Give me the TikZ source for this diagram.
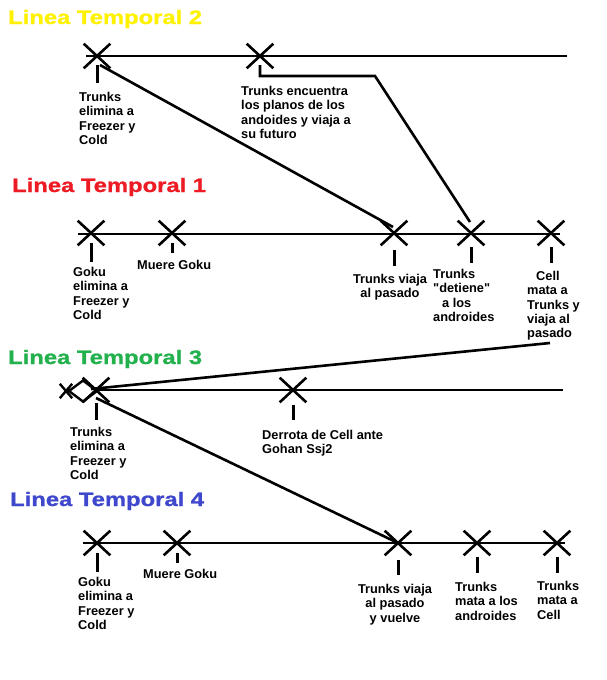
\documentclass[tikz,border=0pt]{standalone}
\usepackage{fontspec}
\setmainfont[Ligatures=TeXOff]{Liberation Sans}
\newfontfamily\titlefont[FakeStretch=1.22,FakeBold=1]{Liberation Sans}
\usetikzlibrary{shapes.misc,shapes.geometric,calc}
\definecolor{tyellow}{HTML}{FFF200}
\definecolor{tred}{HTML}{ED1C24}
\definecolor{tgreen}{HTML}{22B14C}
\definecolor{tblue}{HTML}{3F48CC}
\begin{document}
\begin{tikzpicture}[x=1pt,y=-1pt,
  tl/.style={line width=2.6pt},
  ev/.style={cross out,draw,line width=2.6pt,minimum width=24pt,minimum height=22pt,inner sep=0pt},
  tk/.style={line width=3pt},
  lbl/.style={inner sep=0pt,font=\bfseries\fontsize{12.8}{14.3}\selectfont,align=left,anchor=north west},
  lblc/.style={lbl,align=center,anchor=north},
  ttl/.style={inner sep=0pt,anchor=base west,font=\titlefont\bfseries\fontsize{19.5}{22}\selectfont}
]
\useasboundingbox (0,0) rectangle (607,680);
\fill[white] (0,0) rectangle (607,680);

% ---------- Linea Temporal 2 ----------
\node[ttl,text=tyellow] (T2) at (8,24) {Linea Temporal 2};
\coordinate (l2s) at (86,56); \coordinate (l2e) at (567,56);
\draw[tl] (l2s) -- (l2e);
\node[ev] (t2a) at (97,56) {};
\node[ev] (t2b) at (260,56) {};
\draw[tk] ($(t2a)+(0,9)$) -- ($(t2a)+(0,27)$);
\node[lbl] (n2a) at (79,92) {Trunks\\elimina a\\Freezer y\\Cold};
\node[lbl] (n2b) at (241,86) {Trunks encuentra\\los planos de los\\andoides y viaja a\\su futuro};

% ---------- Linea Temporal 1 ----------
\node[ttl,text=tred] (T1) at (12,192) {Linea Temporal 1};
\coordinate (l1s) at (78,234); \coordinate (l1e) at (560,234);
\draw[tl] (l1s) -- (l1e);
\node[ev] (t1a) at (91,233) {};
\node[ev] (t1b) at (172,233) {};
\node[ev] (t1c) at (394,233) {};
\node[ev] (t1d) at (471,233) {};
\node[ev] (t1e) at (551,233) {};
\draw[tk] ($(t1a)+(0,10)$) -- ($(t1a)+(0,29)$);
\draw[tk] ($(t1b)+(0,10)$) -- ($(t1b)+(0,20)$);
\draw[tk] ($(t1c)+(0,17)$) -- ($(t1c)+(0,33)$);
\draw[tk] ($(t1d)+(0,14)$) -- ($(t1d)+(0,30)$);
\draw[tk] ($(t1e)+(0,14)$) -- ($(t1e)+(0,30)$);
\node[lbl] (n1a) at (73,267) {Goku\\elimina a\\Freezer y\\Cold};
\node[lbl] (n1b) at (137,260) {Muere Goku};
\node[lblc] (n1c) at (390,274) {Trunks viaja\\al pasado};
\node[lbl] (n1d) at (433,269) {Trunks\\"detiene"\\\hspace*{9pt}a los\\androides};
\node[lbl] (n1e) at (527,271) {\hspace*{9pt}Cell\\mata a\\Trunks y\\viaja al\\pasado};

% connectors from Linea 2
\draw[tl] ($(t2a)+(3,9)$) -- ($(t1c)+(-1,-6)$);
\draw[tl] ($(t2b)+(0,9)$) -- ($(t2b)+(0,20)$) -- (375,76) -- ($(t1d)+(-1,-11)$);

% ---------- Linea Temporal 3 ----------
\node[ttl,text=tgreen] (T3) at (8,364) {Linea Temporal 3};
\coordinate (l3s) at (65,390); \coordinate (l3e) at (563,390);
\draw[tl] (l3s) -- (l3e);
\node[cross out,draw,line width=2.4pt,minimum width=10pt,minimum height=12pt,inner sep=0pt] (t3x) at (66,391) {};
\node[diamond,draw,fill=white,line width=2.4pt,minimum width=29pt,minimum height=22pt,inner sep=0pt] (t3d) at (83,391) {};
\node[ev] (t3a) at (96,390) {};
\node[ev] (t3b) at (293,390) {};
\draw[tk] ($(t3a)+(0,13)$) -- ($(t3a)+(0,30)$);
\draw[tk] ($(t3b)+(0,15)$) -- ($(t3b)+(0,30)$);
\node[lbl] (n3a) at (70,427) {Trunks\\elimina a\\Freezer y\\Cold};
\node[lbl] (n3b) at (262,430) {Derrota de Cell ante\\Gohan Ssj2};

% connector from Cell (Linea 1) back to Linea 3
\coordinate (c1) at (550,343);
\draw[tl] (c1) -- ($(t3a)+(-5,-1)$);

% ---------- Linea Temporal 4 ----------
\node[ttl,text=tblue] (T4) at (10,506) {Linea Temporal 4};
\coordinate (l4s) at (83,543); \coordinate (l4e) at (565,543);
\draw[tl] (l4s) -- (l4e);
\node[ev] (t4a) at (97,543) {};
\node[ev] (t4b) at (177,543) {};
\node[ev] (t4c) at (398,543) {};
\node[ev] (t4d) at (477,543) {};
\node[ev] (t4e) at (557,543) {};
\draw[tk] ($(t4a)+(0,10)$) -- ($(t4a)+(0,29)$);
\draw[tk] ($(t4b)+(0,10)$) -- ($(t4b)+(0,20)$);
\draw[tk] ($(t4c)+(0,17)$) -- ($(t4c)+(0,32)$);
\draw[tk] ($(t4d)+(0,14)$) -- ($(t4d)+(0,30)$);
\draw[tk] ($(t4e)+(0,14)$) -- ($(t4e)+(0,30)$);
\node[lbl] (n4a) at (78,577) {Goku\\elimina a\\Freezer y\\Cold};
\node[lbl] (n4b) at (143,569) {Muere Goku};
\node[lblc] (n4c) at (395,584) {Trunks viaja\\al pasado\\y vuelve};
\node[lbl] (n4d) at (455,582) {Trunks\\mata a los\\androides};
\node[lbl] (n4e) at (537,581) {Trunks\\mata a\\Cell};

% connector from Linea 3 to Linea 4
\draw[tl] ($(t3a)+(0,8)$) -- (t4c.center);
\end{tikzpicture}
\end{document}
